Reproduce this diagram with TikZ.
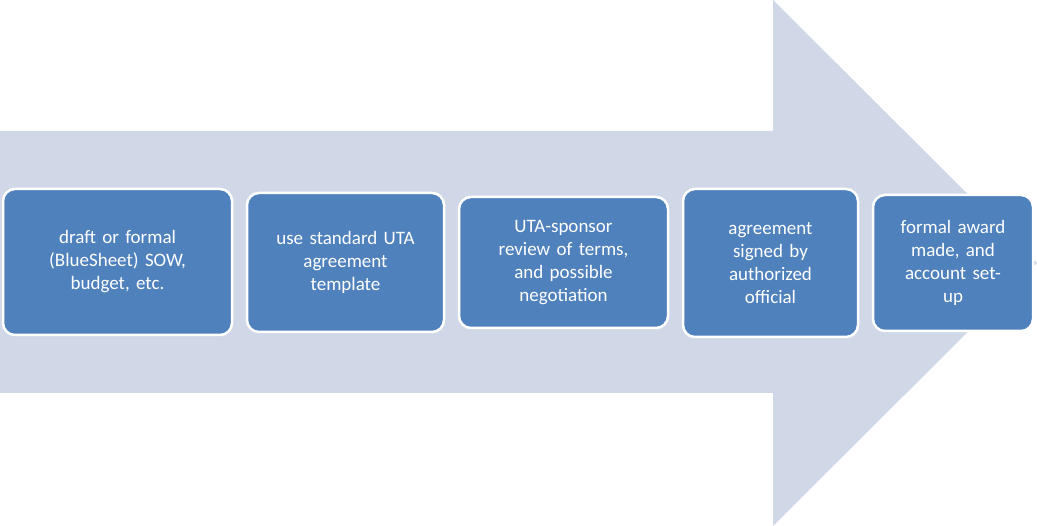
\documentclass[tikz,border=0pt]{standalone}
\usepackage{fontspec}
\setmainfont{Carlito}
\definecolor{arrowc}{HTML}{D0D8E8}
\definecolor{boxc}{HTML}{4F81BD}
\begin{document}
\begin{tikzpicture}[x=1pt,y=-1pt,
  stepbox/.style={draw=white,line width=2.5pt,fill=boxc,rounded corners=12pt,text=white,
    font=\fontsize{19}{23}\selectfont,align=center,inner sep=0pt}]
\useasboundingbox (0,0) rectangle (1037,526);
\fill[arrowc] (0,131) -- (773,131) -- (773,0) -- (1037,263) -- (773,526) -- (773,393) -- (0,393) -- cycle;
\node[stepbox,minimum width=229pt,minimum height=146pt,text width=200pt] (b1) at (117.5,262) {draft or formal\\(BlueSheet) SOW,\\budget, etc.};
\node[stepbox,minimum width=197pt,minimum height=139pt,text width=180pt] (b2) at (345.5,262.5) {use standard UTA\\agreement\\template};
\node[stepbox,minimum width=209pt,minimum height=131pt,text width=190pt] (b3) at (563.5,262.5) {UTA-sponsor\\review of terms,\\and possible\\negotiation};
\node[stepbox,minimum width=175pt,minimum height=148pt,text width=160pt] (b4) at (770.5,263) {agreement\\signed by\\authorized\\official};
\node[stepbox,minimum width=160pt,minimum height=136pt,text width=150pt] (b5) at (953,263) {formal award\\made, and\\account set-\\up};
\end{tikzpicture}
\end{document}
